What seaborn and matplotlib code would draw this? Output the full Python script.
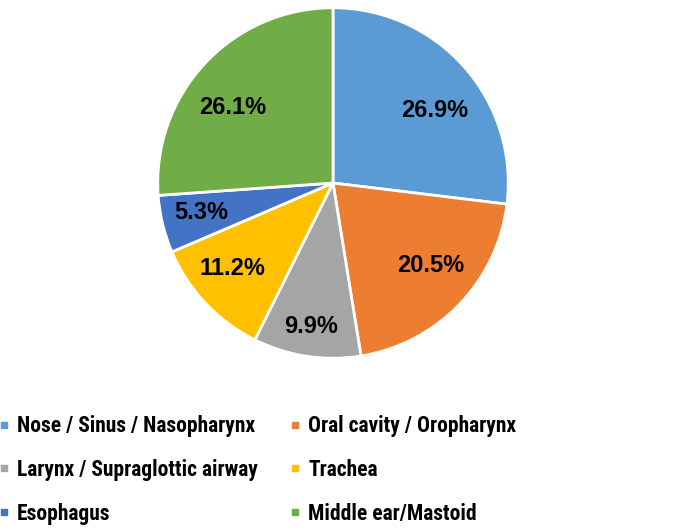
import matplotlib
matplotlib.use("Agg")
import numpy as np
import matplotlib.pyplot as plt
from matplotlib.lines import Line2D
import seaborn as sns

sites = ["Nose / Sinus / Nasopharynx", "Oral cavity / Oropharynx",
         "Larynx / Supraglottic airway", "Trachea", "Esophagus",
         "Middle ear/Mastoid"]
shares = [26.9, 20.5, 9.9, 11.2, 5.3, 26.1]
colors = ["#5B9BD5", "#ED7D31", "#A5A5A5", "#FFC000", "#4472C4", "#70AD47"]

# label placement tweaks (radius as fraction, angle shift in degrees)
label_r = [0.71, 0.73, 0.83, 0.75, 0.77, 0.72]
label_shift = [-6, 4, 0, -3, -1, 6]

sns.set_theme(style="white")
plt.rcParams['font.family'] = ['Liberation Sans', 'DejaVu Sans']
plt.rcParams['text.color'] = 'black'
palette = sns.color_palette(colors)

fig = plt.figure(figsize=(6.76, 5.31), dpi=100)
ax = fig.add_axes([156 / 676, 1 - 360 / 531, 354 / 676, 354 / 531])

wedges, texts, autotexts = ax.pie(
    shares, colors=palette, startangle=90, counterclock=False,
    autopct=lambda p: f"{p:.1f}%", pctdistance=0.7,
    wedgeprops=dict(edgecolor="white", linewidth=2),
    textprops=dict(fontsize=17, fontweight="bold", color="black"))

for w, t, r, s in zip(wedges, autotexts, label_r, label_shift):
    mid = np.deg2rad((w.theta1 + w.theta2) / 2 + s)
    t.set_position((r * np.cos(mid), r * np.sin(mid)))

ax.set_xlim(-1.01, 1.01)
ax.set_ylim(-1.01, 1.01)
ax.set_aspect("equal")

# legend: row order is Nose/Oral, Larynx/Trachea, Esophagus/Middle ear
order = [0, 2, 4, 1, 3, 5]
handles = [Line2D([], [], marker="s", linestyle="", markersize=4,
                  markerfacecolor=colors[i], markeredgecolor=colors[i])
           for i in order]
labels = [sites[i] for i in order]
fig.legend(handles, labels, ncol=2, loc="lower left",
           bbox_to_anchor=(-0.012, 0.0), frameon=False,
           prop=dict(family=['Roboto Condensed', 'Liberation Sans'],
                     size=15.5, weight="bold"),
           labelcolor="black", labelspacing=1.0,
           handlelength=0.5, handletextpad=0.35, columnspacing=1.5,
           borderaxespad=0.0, borderpad=0.3)

fig.savefig("out.png", dpi=100)
